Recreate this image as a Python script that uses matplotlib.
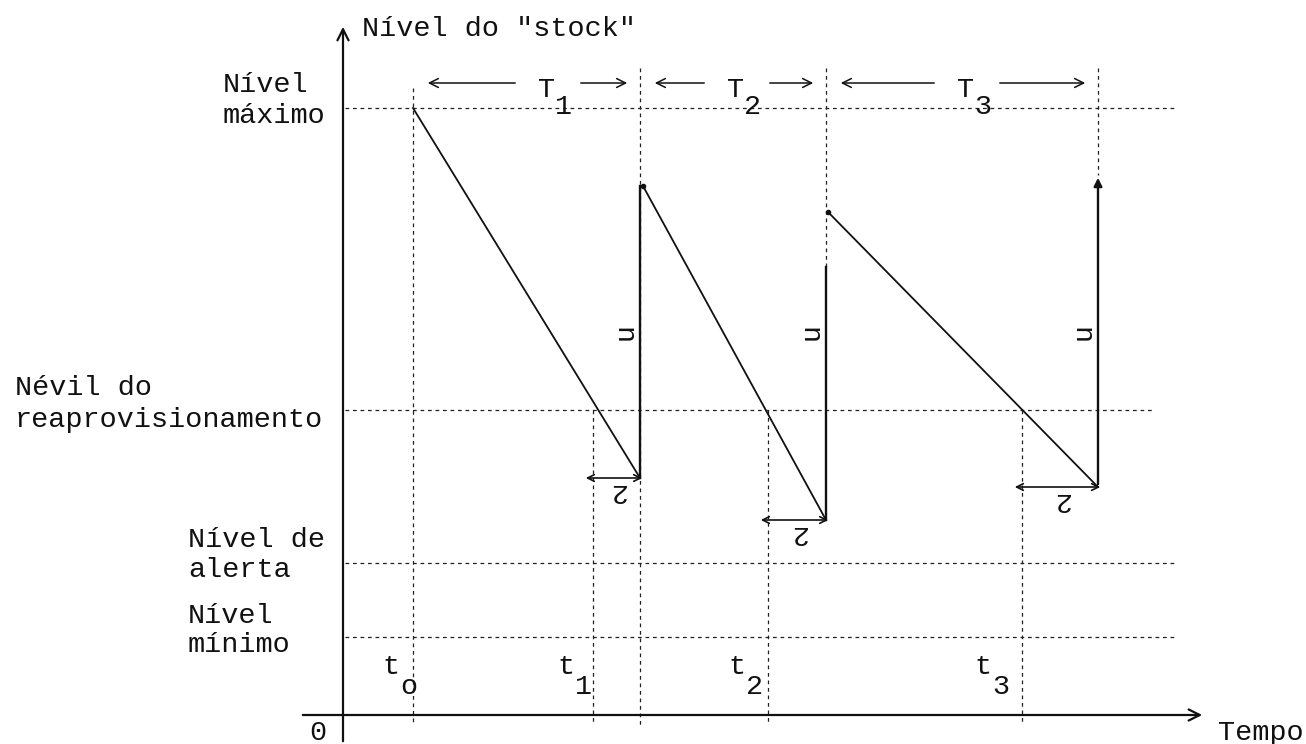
import matplotlib
matplotlib.use('Agg')
import matplotlib.pyplot as plt

# ---- data (time units, stock-level units) ----
level_max = 60.7
level_reorder = 30.5
level_alert = 15.2
level_min = 7.8

order_times = [7.0, 25.0, 42.5, 67.9]          # t0, t1, t2, t3
receipt_times = [29.7, 48.3, 75.5]             # end of T1, T2, T3
cycle_start_times = [7.0, 30.0, 48.5]
cycle_start_levels = [60.7, 52.9, 50.3]
cycle_end_levels = [23.7, 19.5, 22.8]
restock_top_levels = [52.9, 44.8, 54.0]
period_labels = ['1', '2', '3']
order_labels = ['o', '1', '2', '3']

plt.rcParams['font.family'] = ['Liberation Mono', 'DejaVu Sans Mono']
FS = 20.5
INK = '#111111'

fig = plt.figure(figsize=(13.06, 7.44), dpi=100)
ax = fig.add_axes([0, 0, 1, 1])
ax.set_xlim(-34.3, 96.3)
ax.set_ylim(-2.9, 71.5)
ax.axis('off')


def X(px):
    return (px - 343) / 10.0


def Y(py):
    return (715 - py) / 10.0


def txt(px, py, s, **kw):
    ax.text(X(px), Y(py), s, fontsize=FS, color=INK, va='baseline', ha='left', **kw)


dash = dict(color='#222222', lw=0.9, linestyle=(0, (3, 3)))

# axes with arrows
ax.annotate('', xy=(0, Y(24)), xytext=(0, Y(744)),
            arrowprops=dict(arrowstyle='->', lw=1.6, color=INK, mutation_scale=20))
ax.annotate('', xy=(X(1205), 0), xytext=(X(300), 0),
            arrowprops=dict(arrowstyle='->', lw=1.6, color=INK, mutation_scale=20))

# horizontal level lines
ax.plot([X(345), X(1175)], [level_max, level_max], **dash)
ax.plot([X(345), X(1155)], [level_reorder, level_reorder], **dash)
ax.plot([X(345), X(1175)], [level_alert, level_alert], **dash)
ax.plot([X(345), X(1175)], [level_min, level_min], **dash)

# vertical dashed lines
bottom = Y(725)
top_dash = Y(68)
ax.plot([order_times[0], order_times[0]], [Y(88), bottom], **dash)
for t in order_times[1:]:
    ax.plot([t, t], [level_reorder, bottom], **dash)
ax.plot([receipt_times[0], receipt_times[0]], [top_dash, bottom], **dash)
for i in (1, 2):
    ax.plot([receipt_times[i], receipt_times[i]], [top_dash, restock_top_levels[i]], **dash)

# consumption lines
for i in range(3):
    ax.plot([cycle_start_times[i], receipt_times[i]],
            [cycle_start_levels[i], cycle_end_levels[i]], color=INK, lw=1.3)
for i in (1, 2):
    ax.plot([cycle_start_times[i]], [cycle_start_levels[i]], 'o', color=INK, ms=3)

# replenishment verticals
for i in (0, 1):
    ax.plot([receipt_times[i], receipt_times[i]],
            [cycle_end_levels[i], restock_top_levels[i]], color=INK, lw=1.7)
ax.annotate('', xy=(receipt_times[2], restock_top_levels[2]),
            xytext=(receipt_times[2], cycle_end_levels[2]),
            arrowprops=dict(arrowstyle='-|>', lw=1.7, color=INK, mutation_scale=12))

# n labels
for i in range(3):
    ax.text(receipt_times[i] - 1.8, Y(336), 'n', fontsize=FS, color=INK,
            rotation=270, ha='center', va='center')

# lead-time arrows with rotated "2"
for i in range(3):
    t0, t1 = order_times[i + 1], receipt_times[i]
    lv = cycle_end_levels[i]
    ax.annotate('', xy=(t0 - 1.0, lv), xytext=(t1 + 0.5, lv),
                arrowprops=dict(arrowstyle='<->', lw=1.2, color=INK, mutation_scale=12))
    ax.text((t0 + t1) / 2, lv - 1.3, '2', fontsize=FS, color=INK,
            rotation=180, ha='center', va='center')

# period labels T1, T2, T3 with arrows
T_left = [538, 727, 957]
bounds = [413, 640, 826, 1098]
arrow_y = Y(83)
for i in range(3):
    tx = T_left[i]
    txt(tx, 97, 'T')
    txt(tx + 17, 114, period_labels[i])
    ax.annotate('', xy=(X(bounds[i] + 12), arrow_y), xytext=(X(tx - 20), arrow_y),
                arrowprops=dict(arrowstyle='->', lw=1.1, color=INK, mutation_scale=16))
    ax.annotate('', xy=(X(bounds[i + 1] - 10), arrow_y), xytext=(X(tx + 40), arrow_y),
                arrowprops=dict(arrowstyle='->', lw=1.1, color=INK, mutation_scale=16))

# t labels
t_left = [382, 557, 728, 974]
for i in range(4):
    txt(t_left[i], 674, 't')
    txt(t_left[i] + 18, 694, order_labels[i])

# texts
txt(362, 36, 'Nível do "stock"')
txt(223, 92, 'Nível')
txt(223, 123, 'máximo')
txt(15, 395, 'Névil do')
txt(15, 427, 'reaprovisionamento')
txt(188, 547, 'Nível de')
txt(188, 577, 'alerta')
txt(188, 623, 'Nível')
txt(188, 652, 'mínimo')
txt(309, 740, '0')
txt(1218, 740, 'Tempo')

fig.savefig('out.png', dpi=100, facecolor='white')
